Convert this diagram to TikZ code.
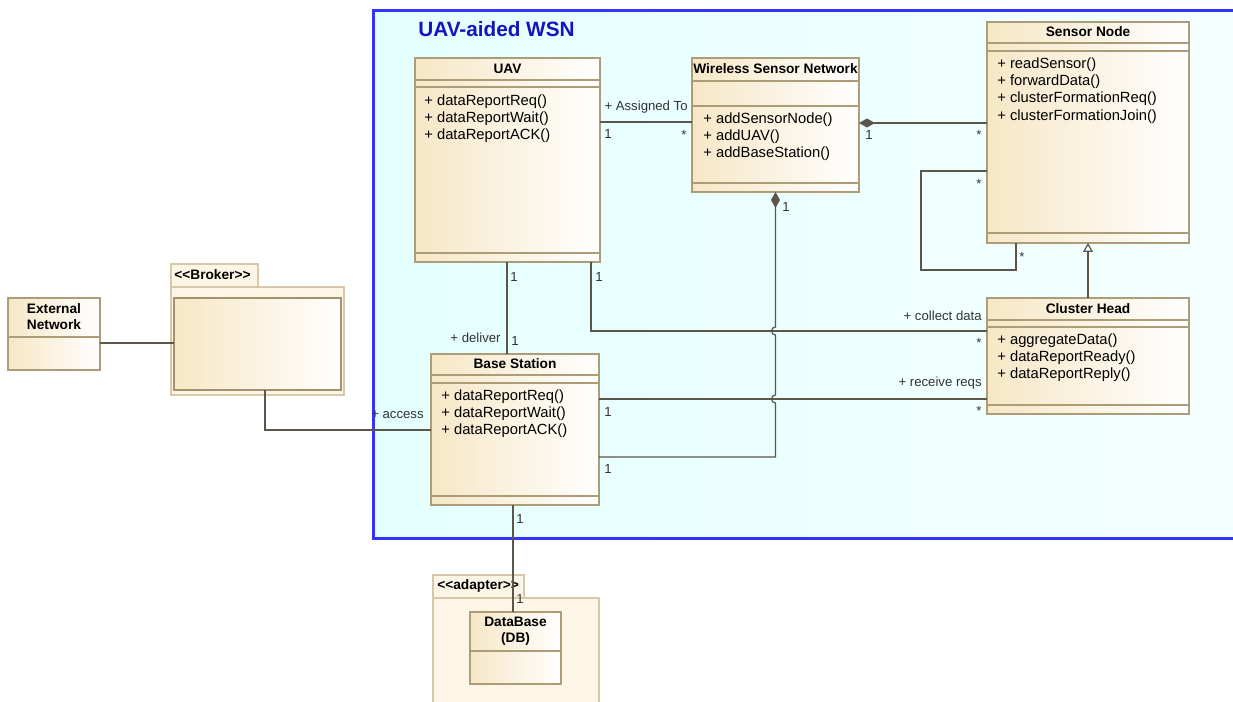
\documentclass[tikz,border=0pt]{standalone}
\usepackage{fontspec}
\setmainfont{Liberation Sans}
\usetikzlibrary{arrows.meta}

\definecolor{classfill}{RGB}{246,231,198}
\definecolor{classline}{RGB}{172,156,120}
\definecolor{brokerline}{RGB}{165,146,108}
\definecolor{pkgfill}{RGB}{253,246,231}
\definecolor{pkgline}{RGB}{214,200,168}
\definecolor{connline}{RGB}{92,86,74}
\definecolor{frameblue}{RGB}{51,51,255}
\definecolor{frameleft}{RGB}{228,255,255}
\definecolor{frameright}{RGB}{245,255,255}
\definecolor{titleblue}{RGB}{20,20,190}

\begin{document}
\begin{tikzpicture}[
    x=0.02cm, y=-0.02cm,
    conn/.style={draw=connline, line width=0.7pt},
    composition/.style={conn, {Diamond[length=3.2mm,width=1.8mm]}-},
    generalization/.style={conn, -{Triangle[open,length=1.8mm,width=2mm,fill=white]}},
    class node/.style={draw=classline, line width=0.7pt, left color=classfill, right color=white,
      anchor=north west, inner sep=0pt, outer sep=0pt},
    package node/.style={draw=pkgline, line width=0.7pt, fill=pkgfill, anchor=north west,
      inner sep=0pt, outer sep=0pt},
    compartment/.style={draw=classline, line width=0.6pt},
    class title/.style={font=\fontsize{7.8}{9.1}\selectfont\bfseries, inner sep=0pt, align=center},
    op list/.style={font=\fontsize{8.4}{9.9}\selectfont, inner sep=0pt, align=left, anchor=north west},
    mult/.style={font=\fontsize{7.5}{9}\selectfont, inner sep=0pt, text=black!80},
    role/.style={mult, anchor=east}]

  \useasboundingbox (0,0) rectangle (1233,701);

  % system boundary
  \node[draw=frameblue, line width=1.7pt, left color=frameleft, right color=frameright, anchor=north west,
        inner sep=0pt, minimum width=17.28cm, minimum height=10.56cm] (frame) at (372,9) {};
  \node[font=\fontsize{11.8}{14}\selectfont\bfseries, text=titleblue, anchor=west, inner sep=0pt]
        (frametitle) at (418,29) {UAV-aided WSN};

  % packages
  \node[package node, minimum width=1.74cm, minimum height=0.46cm] (brokertab) at (171,264) {};
  \node[package node, minimum width=3.46cm, minimum height=2.16cm] (broker) at (171,287) {};
  \node[class title, anchor=west] (brokerlabel) at (174,275) {<\kern0pt<Broker>\kern0pt>};
  \node[class node, draw=brokerline, line width=1.1pt, minimum width=3.34cm, minimum height=1.84cm] (brokerbox) at (174,298) {};

  \node[package node, minimum width=1.82cm, minimum height=0.46cm] (adaptertab) at (433,575) {};
  \node[package node, minimum width=3.32cm, minimum height=2.2cm] (adapter) at (433,598) {};
  \node[class title, anchor=west] (adapterlabel) at (437,586) {<\kern0pt<adapter>\kern0pt>};

  % classes
  \node[class node, minimum width=3.7cm, minimum height=4.08cm] (UAV) at (415,58) {};
  \node[class title] (UAVt) at (507.5,69) {UAV};
  \draw[compartment] (UAV.west |- 0,80) -- (UAV.east |- 0,80) (UAV.west |- 0,87) -- (UAV.east |- 0,87)
    (UAV.west |- 0,253) -- (UAV.east |- 0,253);
  \node[op list] (UAVops) at (424,94) {+ dataReportReq()\\+ dataReportWait()\\+ dataReportACK()};

  \node[class node, minimum width=3.34cm, minimum height=2.68cm] (WSN) at (692,58) {};
  \node[class title] (WSNt) at (775.5,69) {Wireless Sensor Network};
  \draw[compartment] (WSN.west |- 0,81) -- (WSN.east |- 0,81) (WSN.west |- 0,106) -- (WSN.east |- 0,106)
    (WSN.west |- 0,183) -- (WSN.east |- 0,183);
  \node[op list] (WSNops) at (703,112) {+ addSensorNode()\\+ addUAV()\\+ addBaseStation()};

  \node[class node, minimum width=4.04cm, minimum height=4.42cm] (SN) at (987,22) {};
  \node[class title] (SNt) at (1088,32) {Sensor Node};
  \draw[compartment] (SN.west |- 0,43) -- (SN.east |- 0,43) (SN.west |- 0,51) -- (SN.east |- 0,51)
    (SN.west |- 0,233) -- (SN.east |- 0,233);
  \node[op list] (SNops) at (997,57) {+ readSensor()\\+ forwardData()\\+ clusterFormationReq()\\+ clusterFormationJoin()};

  \node[class node, minimum width=4.04cm, minimum height=2.32cm] (CH) at (987,298) {};
  \node[class title] (CHt) at (1088,309) {Cluster Head};
  \draw[compartment] (CH.west |- 0,320) -- (CH.east |- 0,320) (CH.west |- 0,327) -- (CH.east |- 0,327)
    (CH.west |- 0,405) -- (CH.east |- 0,405);
  \node[op list] (CHops) at (997,333) {+ aggregateData()\\+ dataReportReady()\\+ dataReportReply()};

  \node[class node, minimum width=3.36cm, minimum height=3.02cm] (BS) at (431,354) {};
  \node[class title] (BSt) at (515,364) {Base Station};
  \draw[compartment] (BS.west |- 0,375) -- (BS.east |- 0,375) (BS.west |- 0,383) -- (BS.east |- 0,383)
    (BS.west |- 0,496) -- (BS.east |- 0,496);
  \node[op list] (BSops) at (441,389) {+ dataReportReq()\\+ dataReportWait()\\+ dataReportACK()};

  \node[class node, minimum width=1.84cm, minimum height=1.44cm] (ExtNet) at (8,298) {};
  \node[class title] (ExtNett) at (54,317) {External\\Network};
  \draw[compartment] (ExtNet.west |- 0,337) -- (ExtNet.east |- 0,337);

  \node[class node, minimum width=1.82cm, minimum height=1.44cm] (DB) at (470,612) {};
  \node[class title] (DBt) at (515.5,631) {DataBase\\(DB)};
  \draw[compartment] (DB.west |- 0,651) -- (DB.east |- 0,651);

  % connectors
  \draw[conn] (UAV.east |- 0,122) -- (WSN.west |- 0,122);
  \draw[composition] (WSN.east |- 0,123) -- (SN.west |- 0,123);
  \draw[conn] (SN.west |- 0,171) -| (921,270) -| (1016,0 |- SN.south);
  \draw[generalization] (CH.north) -- (CH.north |- SN.south);
  \draw[conn] (507,0 |- UAV.south) -- (507,0 |- BS.north);
  \draw[conn] (591,0 |- UAV.south) |- (CH.west |- 0,331);
  \draw[conn] (BS.east |- 0,399) -- (CH.west |- 0,399);
  \draw[composition] (WSN.south) -- (775.5,327) arc[start angle=90, end angle=270, radius=0.08cm]
    -- (775.5,395) arc[start angle=90, end angle=270, radius=0.08cm]
    -- (775.5,457) -- (BS.east |- 0,457);
  \draw[conn] (513,0 |- BS.south) -- (513,0 |- DB.north);
  \draw[conn] (ExtNet.east |- 0,343) -- (brokerbox.west |- 0,343);
  \draw[conn] (265,0 |- brokerbox.south) |- (BS.west |- 0,430);

  % roles and multiplicities
  \node[role] (r1) at (688,107) {+ Assigned To};
  \node[mult] (m1) at (608,134) {1};
  \node[mult] (m2) at (684,135) {*};
  \node[mult] (m3) at (869,135) {1};
  \node[mult] (m4) at (979,135) {*};
  \node[mult] (m5) at (979,184) {*};
  \node[mult] (m6) at (1022,257) {*};
  \node[mult] (m7) at (514,277) {1};
  \node[role] (r2) at (501,338) {+ deliver};
  \node[mult] (m8) at (515,341) {1};
  \node[mult] (m9) at (599,277) {1};
  \node[role] (r3) at (982,316) {+ collect data};
  \node[mult] (m10) at (979,343) {*};
  \node[role] (r4) at (982,383) {+ receive reqs};
  \node[mult] (m11) at (608,412) {1};
  \node[mult] (m12) at (979,411) {*};
  \node[mult] (m13) at (786,207) {1};
  \node[mult] (m14) at (608,469) {1};
  \node[mult] (m15) at (520,519) {1};
  \node[mult] (m16) at (520,599) {1};
  \node[role] (r5) at (424,415) {+ access};
\end{tikzpicture}
\end{document}
